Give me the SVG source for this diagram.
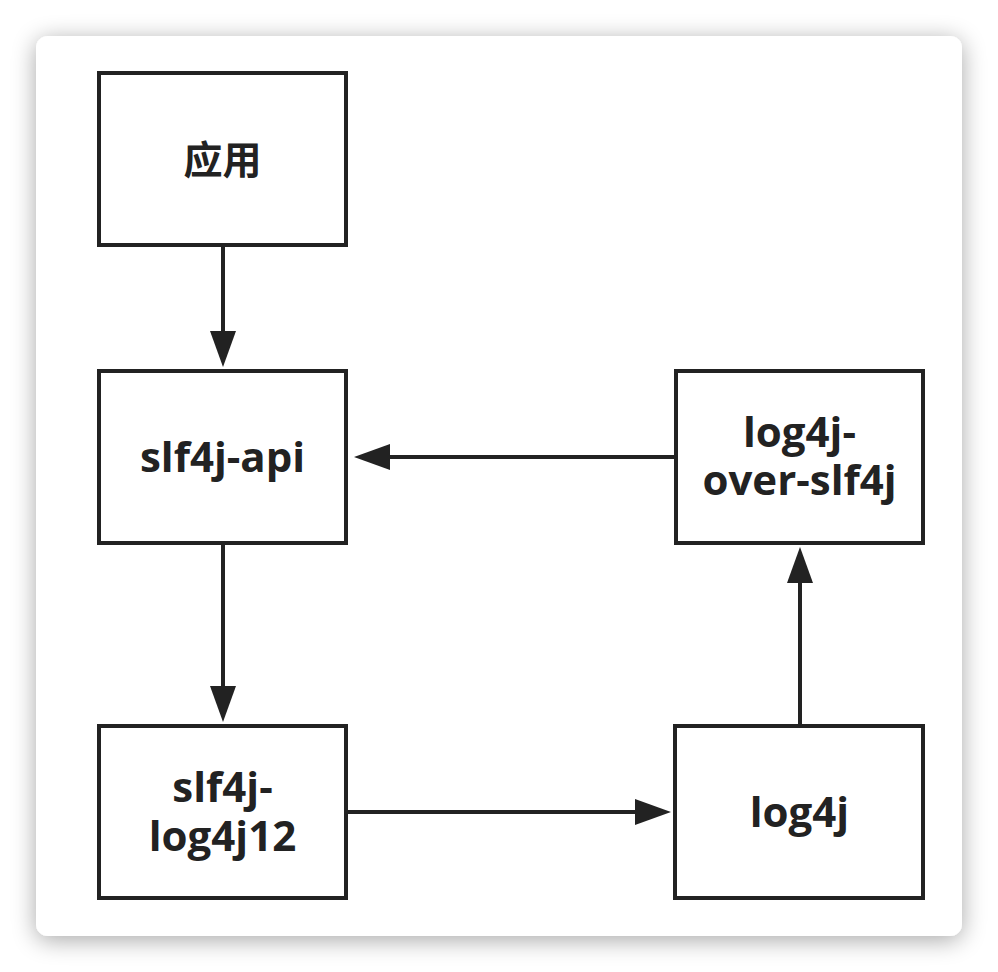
<svg xmlns="http://www.w3.org/2000/svg" width="998" height="972" viewBox="0 0 998 972">
<defs>
<filter id="shadow" x="-10%" y="-10%" width="120%" height="120%">
<feGaussianBlur in="SourceAlpha" stdDeviation="12"/>
<feOffset dx="0" dy="4" result="b"/>
<feComponentTransfer><feFuncA type="linear" slope="0.35"/></feComponentTransfer>
<feMerge><feMergeNode/><feMergeNode in="SourceGraphic"/></feMerge>
</filter>
<marker id="arrow" viewBox="0 0 36 26" markerWidth="36" markerHeight="26" refX="26" refY="13" orient="auto" markerUnits="userSpaceOnUse">
<path d="M0,0 L36,13 L0,26 Z" fill="#222"/>
</marker>
<style>
.box{fill:#fff;stroke:#222;stroke-width:4}
.lbl{font-family:"Open Sans","Noto Sans CJK SC",sans-serif;font-weight:bold;font-size:42px;fill:#222;text-anchor:middle}
.cjk{font-family:"Noto Sans CJK SC",sans-serif;font-weight:bold;font-size:39px;fill:#222;text-anchor:middle}
.edge{stroke:#222;stroke-width:4;fill:none;marker-end:url(#arrow)}
</style>
</defs>
<rect width="998" height="972" fill="#fff"/>
<rect x="36" y="36" width="926" height="900" rx="12" fill="#fff" filter="url(#shadow)"/>
<g id="connectors">
<line class="edge" x1="223" y1="247" x2="223" y2="357"/>
<line class="edge" x1="223" y1="545" x2="223" y2="712"/>
<line class="edge" x1="348" y1="812" x2="661" y2="812"/>
<line class="edge" x1="800" y1="724" x2="800" y2="557"/>
<line class="edge" x1="674" y1="457" x2="364" y2="457"/>
</g>
<g id="node-app">
<rect class="box" x="99" y="73" width="247" height="172"/>
<text class="cjk" x="222.5" y="174">应用</text>
</g>
<g id="node-slf4j-api">
<rect class="box" x="99" y="371" width="247" height="172"/>
<text class="lbl" x="222.5" y="472">slf4j-api</text>
</g>
<g id="node-log4j-over-slf4j">
<rect class="box" x="676" y="371" width="247" height="172"/>
<text class="lbl" x="799.5" y="447">log4j-</text>
<text class="lbl" x="799.5" y="495">over-slf4j</text>
</g>
<g id="node-slf4j-log4j12">
<rect class="box" x="99" y="726" width="247" height="172"/>
<text class="lbl" x="222.5" y="802">slf4j-</text>
<text class="lbl" x="222.5" y="851">log4j12</text>
</g>
<g id="node-log4j">
<rect class="box" x="675" y="726" width="248" height="172"/>
<text class="lbl" x="799.5" y="827">log4j</text>
</g>
</svg>
